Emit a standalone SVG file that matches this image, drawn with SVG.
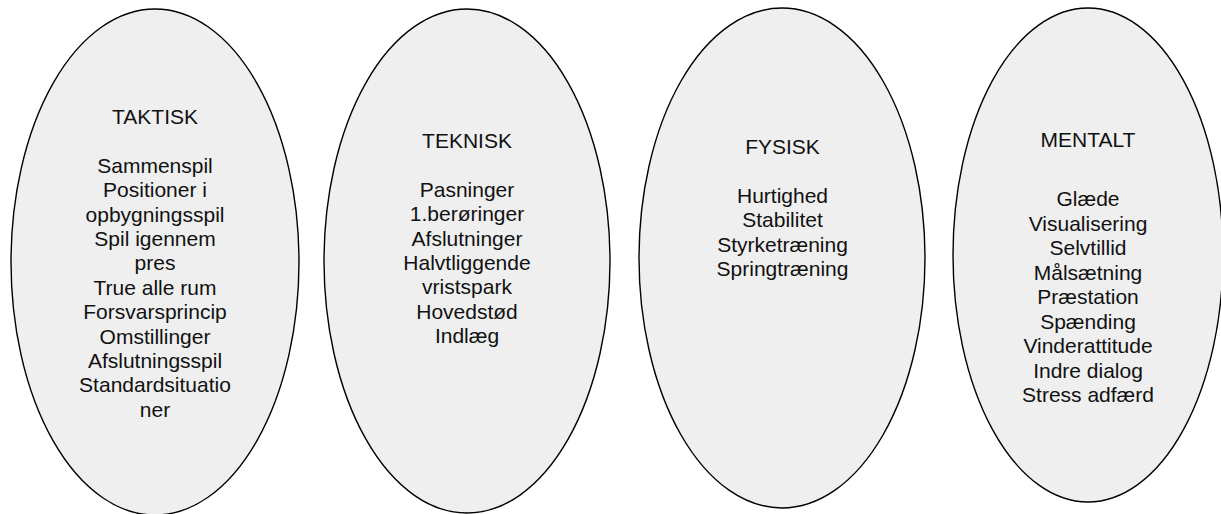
<svg xmlns="http://www.w3.org/2000/svg" width="1221" height="514" viewBox="0 0 1221 514">
<style>
.shape{fill:#efefef;stroke:#000;stroke-width:1.4}
text{font-family:"Liberation Sans",Arial,sans-serif;font-size:21px;fill:#111;text-anchor:middle}
</style>
<rect width="1221" height="514" fill="#fff"/>
<g id="connectors"></g>
<g id="taktisk">
<ellipse class="shape" cx="155" cy="262" rx="144" ry="253"/>
<text x="155" y="124">TAKTISK</text>
<text x="155" y="172.8">Sammenspil</text>
<text x="155" y="197.2">Positioner i</text>
<text x="155" y="221.6">opbygningsspil</text>
<text x="155" y="246">Spil igennem</text>
<text x="155" y="270.4">pres</text>
<text x="155" y="294.8">True alle rum</text>
<text x="155" y="319.2">Forsvarsprincip</text>
<text x="155" y="343.6">Omstillinger</text>
<text x="155" y="368">Afslutningsspil</text>
<text x="155" y="392.4">Standardsituatio</text>
<text x="155" y="416.8">ner</text>
</g>
<g id="teknisk">
<ellipse class="shape" cx="467" cy="261" rx="143" ry="252"/>
<text x="467" y="148">TEKNISK</text>
<text x="467" y="196.8">Pasninger</text>
<text x="467" y="221.2">1.berøringer</text>
<text x="467" y="245.6">Afslutninger</text>
<text x="467" y="270">Halvtliggende</text>
<text x="467" y="294.4">vristspark</text>
<text x="467" y="318.8">Hovedstød</text>
<text x="467" y="343.2">Indlæg</text>
</g>
<g id="fysisk">
<ellipse class="shape" cx="782" cy="258" rx="143" ry="250"/>
<text x="782.5" y="154">FYSISK</text>
<text x="782.5" y="202.8">Hurtighed</text>
<text x="782.5" y="227.2">Stabilitet</text>
<text x="782.5" y="251.6">Styrketræning</text>
<text x="782.5" y="276">Springtræning</text>
</g>
<g id="mentalt">
<ellipse class="shape" cx="1088" cy="255" rx="135" ry="247"/>
<text x="1088" y="147">MENTALT</text>
<text x="1088" y="206">Glæde</text>
<text x="1088" y="230.5">Visualisering</text>
<text x="1088" y="255">Selvtillid</text>
<text x="1088" y="279.5">Målsætning</text>
<text x="1088" y="304">Præstation</text>
<text x="1088" y="328.5">Spænding</text>
<text x="1088" y="353">Vinderattitude</text>
<text x="1088" y="377.5">Indre dialog</text>
<text x="1088" y="402">Stress adfærd</text>
</g>
</svg>
